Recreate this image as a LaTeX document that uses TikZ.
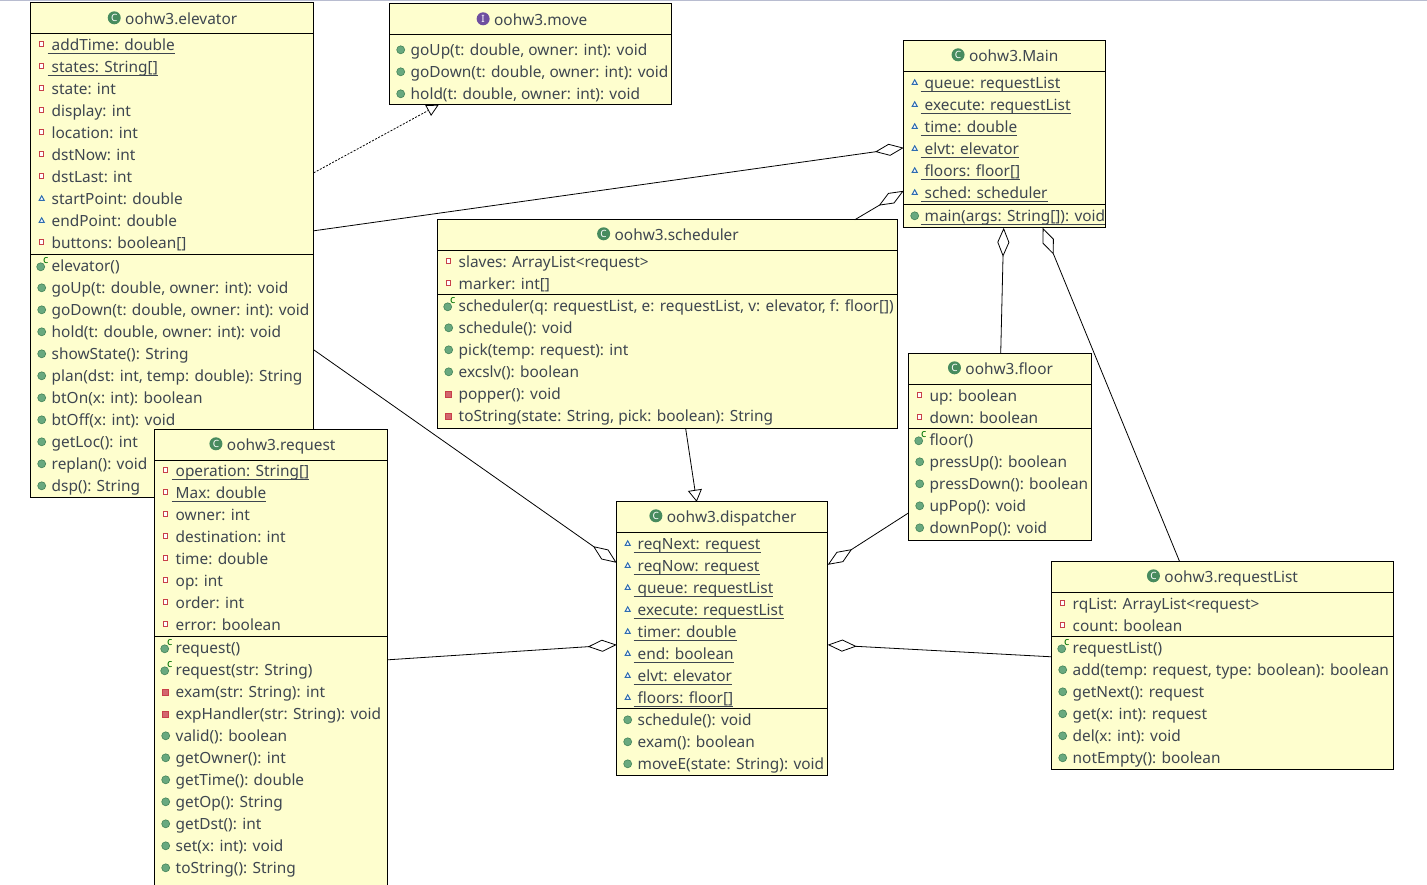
\documentclass[tikz,border=0pt]{standalone}
\usepackage{fontspec}
\setmainfont{Noto Sans}
\usetikzlibrary{arrows.meta,calc}
\definecolor{boxfill}{HTML}{FEFECE}
\definecolor{inktext}{HTML}{3E4650}
\definecolor{icred}{HTML}{C8404A}
\definecolor{icblue}{HTML}{2F6DB0}
\definecolor{icgreen}{HTML}{4F9A68}
\definecolor{icpurple}{HTML}{6F4FA0}
\definecolor{topline}{HTML}{B8BCD0}
\newcount\rowy
\newcount\rown
\newcommand\rows[2]{\def\lx{#1}\rowy=#2\relax}
\newcommand\rowtext[1]{\global\advance\rown by 1
  \node[memtext] (row\the\rown) at ({\lx+21},{\the\rowy+6}) {#1};}
\newcommand\nextrow{\advance\rowy by 22\relax}
\newcommand\icpri{\node[icsq] at ({\lx+11},{\the\rowy-1}) {};}
\newcommand\icpkg{\draw[ictri] ({\lx+8.5},{\the\rowy+1.5}) -- ({\lx+13.5},{\the\rowy+1.5}) -- ({\lx+11},{\the\rowy-3}) -- cycle;}
\newcommand\icpub{\node[iccirc] at ({\lx+11},{\the\rowy}) {};}
\newcommand\icpro{\node[icsqf] at ({\lx+11},{\the\rowy}) {};}
\newcommand\ulast{\draw[ulsty] ([xshift=-4pt,yshift=-3pt]row\the\rown.base west) -- ([yshift=-3pt]row\the\rown.base east);}
\newcommand\pri[1]{\icpri\rowtext{#1}\nextrow}
\newcommand\pris[1]{\icpri\rowtext{#1}\ulast\nextrow}
\newcommand\pkg[1]{\icpkg\rowtext{#1}\nextrow}
\newcommand\pkgs[1]{\icpkg\rowtext{#1}\ulast\nextrow}
\newcommand\pub[1]{\icpub\rowtext{#1}\nextrow}
\newcommand\pubs[1]{\icpub\rowtext{#1}\ulast\nextrow}
\newcommand\pro[1]{\icpro\rowtext{#1}\nextrow}
\newcommand\ctor[1]{\node[iccirc] at ({\lx+10},{\the\rowy+1}) {};\node[icc] at ({\lx+15},{\the\rowy-5}) {c};\rowtext{#1}\nextrow}
\newcommand\cbox[5]{\node[classbox,minimum width={(#4-#2)*1pt},minimum height={(#5-#3)*1pt}] (#1) at ({(#2+#4)/2},{(#3+#5)/2}) {};}
\newcommand\csep[2]{\draw[seprule] (#1.west |- 0,#2) -- (#1.east |- 0,#2);}
\tikzset{
  x=1pt,y=-1pt,
  classbox/.style={draw=black,fill=boxfill,line width=1pt,inner sep=0pt,outer sep=0pt},
  seprule/.style={draw=black,line width=1pt},
  memtext/.style={anchor=base west,inner sep=0pt,outer sep=0pt,text=inktext,font=\fontsize{15.4}{15.4}\selectfont},
  titletext/.style={anchor=base,inner sep=0pt,outer sep=0pt,text=inktext,font=\fontsize{15.4}{15.4}\selectfont},
  ulsty/.style={draw=inktext,line width=1pt},
  icsq/.style={draw=icred,fill=white,line width=1pt,minimum size=4.5pt,inner sep=0pt},
  icsqf/.style={draw=icred,fill=icred!80,line width=.6pt,minimum size=6pt,inner sep=0pt},
  ictri/.style={draw=icblue,fill=white,line width=1pt},
  iccirc/.style={circle,draw=icgreen!85!black,fill=icgreen!85,line width=.6pt,minimum size=8pt,inner sep=0pt},
  icc/.style={inner sep=0pt,text=green!45!black,font=\fontsize{11}{11}\bfseries\selectfont},
  classicon/.style={circle,fill=icgreen!90!black,minimum size=13pt,inner sep=0pt,text=white,font=\fontsize{10}{10}\bfseries\selectfont},
  assoc/.style={draw=black,line width=.8pt},
  realize/.style={assoc,dashed,dash pattern=on 2pt off 1.5pt,-{Triangle[open,length=12pt,width=12pt]}},
  extend/.style={assoc,-{Triangle[open,length=12pt,width=14pt]}},
  aggr/.style={assoc,-{Diamond[open,length=29pt,width=12pt]}},
}
\newcommand\ctitle[4]{\node[titletext] (#1t) at (#3,#4) {#2};
  \node[classicon] at ([xshift=-11pt,yshift=7pt]#1t.base west) {C};}
\begin{document}
\begin{tikzpicture}
\useasboundingbox (0,0) rectangle (1427,884);
\fill[white] (0,0) rectangle (1427,884);
\fill[topline] (0,0) rectangle (1427,1);
\begin{scope}[shift={(-0.3,-0.2)}]

% elevator
\cbox{elevator}{31}{3}{314}{498}
\csep{elevator}{34}\csep{elevator}{255}
\ctitle{elevator}{oohw3.elevator}{181.5}{25}
\rows{31}{45}
\pris{ addTime: double}
\pris{ states: String[]}
\pri{state: int}
\pri{display: int}
\pri{location: int}
\pri{dstNow: int}
\pri{dstLast: int}
\pkg{startPoint: double}
\pkg{endPoint: double}
\pri{buttons: boolean[]}
\rows{31}{266}
\ctor{elevator()}
\pub{goUp(t: double, owner: int): void}
\pub{goDown(t: double, owner: int): void}
\pub{hold(t: double, owner: int): void}
\pub{showState(): String}
\pub{plan(dst: int, temp: double): String}
\pub{btOn(x: int): boolean}
\pub{btOff(x: int): void}
\pub{getLoc(): int}
\pub{replan(): void}
\pub{dsp(): String}

% move
\cbox{move}{390}{4}{672}{105}
\csep{move}{35}
\node[titletext] (movet) at (541,26) {oohw3.move};
\node[classicon,fill=icpurple] at ([xshift=-11pt,yshift=7pt]movet.base west) {I};
\rows{390}{50}
\pub{goUp(t: double, owner: int): void}
\pub{goDown(t: double, owner: int): void}
\pub{hold(t: double, owner: int): void}

% main
\cbox{main}{904}{41}{1106}{228}
\csep{main}{72}\csep{main}{205}
\ctitle{main}{oohw3.Main}{1014}{62}
\rows{904}{83}
\pkgs{ queue: requestList}
\pkgs{ execute: requestList}
\pkgs{ time: double}
\pkgs{ elvt: elevator}
\pkgs{ floors: floor[]}
\pkgs{ sched: scheduler}
\rows{904}{216}
\pubs{ main(args: String[]): void}

% scheduler
\cbox{scheduler}{438}{220}{898}{429}
\csep{scheduler}{251}\csep{scheduler}{295}
\ctitle{scheduler}{oohw3.scheduler}{677}{241}
\rows{438}{262}
\pri{slaves: ArrayList<request>}
\pri{marker: int[]}
\rows{438}{306}
\ctor{scheduler(q: requestList, e: requestList, v: elevator, f: floor[])}
\pub{schedule(): void}
\pub{pick(temp: request): int}
\pub{excslv(): boolean}
\pro{popper(): void}
\pro{toString(state: String, pick: boolean): String}

% floor
\cbox{floor}{909}{354}{1092}{541}
\csep{floor}{385}\csep{floor}{429}
\ctitle{floor}{oohw3.floor}{1009.5}{375}
\rows{909}{396}
\pri{up: boolean}
\pri{down: boolean}
\rows{909}{440}
\ctor{floor()}
\pub{pressUp(): boolean}
\pub{pressDown(): boolean}
\pub{upPop(): void}
\pub{downPop(): void}

% dispatcher
\cbox{dispatcher}{617}{502}{828}{776}
\csep{dispatcher}{533}\csep{dispatcher}{709}
\ctitle{dispatcher}{oohw3.dispatcher}{732}{523}
\rows{617}{544}
\pkgs{ reqNext: request}
\pkgs{ reqNow: request}
\pkgs{ queue: requestList}
\pkgs{ execute: requestList}
\pkgs{ timer: double}
\pkgs{ end: boolean}
\pkgs{ elvt: elevator}
\pkgs{ floors: floor[]}
\rows{617}{720}
\pub{schedule(): void}
\pub{exam(): boolean}
\pub{moveE(state: String): void}

% request
\cbox{request}{155}{430}{388}{894}
\csep{request}{461}\csep{request}{637}
\ctitle{request}{oohw3.request}{281.5}{451}
\rows{155}{471}
\pris{ operation: String[]}
\pris{ Max: double}
\pri{owner: int}
\pri{destination: int}
\pri{time: double}
\pri{op: int}
\pri{order: int}
\pri{error: boolean}
\rows{155}{648}
\ctor{request()}
\ctor{request(str: String)}
\pro{exam(str: String): int}
\pro{expHandler(str: String): void}
\pub{valid(): boolean}
\pub{getOwner(): int}
\pub{getTime(): double}
\pub{getOp(): String}
\pub{getDst(): int}
\pub{set(x: int): void}
\pub{toString(): String}

% requestList
\cbox{requestList}{1052}{562}{1394}{770}
\csep{requestList}{593}\csep{requestList}{637}
\ctitle{requestList}{oohw3.requestList}{1231.5}{583}
\rows{1052}{604}
\pri{rqList: ArrayList<request>}
\pri{count: boolean}
\rows{1052}{648}
\ctor{requestList()}
\pub{add(temp: request, type: boolean): boolean}
\pub{getNext(): request}
\pub{get(x: int): request}
\pub{del(x: int): void}
\pub{notEmpty(): boolean}

% connectors
\draw[realize] ([yshift=-170pt]elevator.north east) -- ([xshift=49pt]move.south west);
\draw[aggr] ([yshift=-228pt]elevator.north east) -- ([yshift=-107pt]main.north west);
\draw[aggr] ([xshift=417pt]scheduler.north west) -- ([yshift=-150pt]main.north west);
\draw[aggr] ([xshift=92pt]floor.north west) -- ([xshift=100pt]main.south west);
\draw[aggr] ([xshift=128pt]requestList.north west) -- ([xshift=139pt]main.south west);
\draw[extend] ([xshift=248pt]scheduler.south west) -- ([xshift=80pt]dispatcher.north west);
\draw[aggr] ([yshift=-347pt]elevator.north east) -- ([yshift=-61pt]dispatcher.north west);
\draw[aggr] ([yshift=-159pt]floor.north west) -- ([yshift=-63pt]dispatcher.north east);
\draw[aggr] ([yshift=-230pt]request.north east) -- ([yshift=-143pt]dispatcher.north west);
\draw[aggr] ([yshift=-95pt]requestList.north west) -- ([yshift=-143pt]dispatcher.north east);
\end{scope}
\end{tikzpicture}
\end{document}
